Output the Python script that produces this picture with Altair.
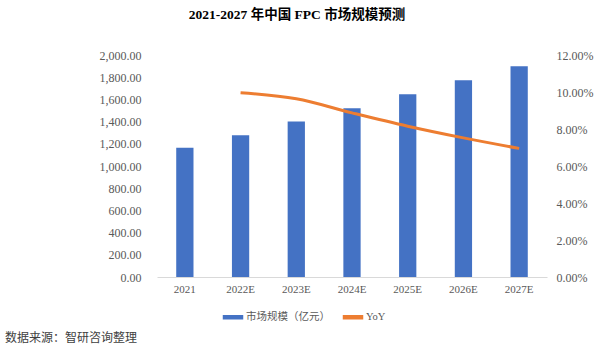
import altair as alt
import pandas as pd

years = ["2021", "2022E", "2023E", "2024E", "2025E", "2026E", "2027E"]
market = [1164, 1277, 1401, 1521, 1647, 1773, 1899]
yoy_years = ["2022E", "2023E", "2024E", "2025E", "2026E", "2027E"]
yoy = [0.0996, 0.0963, 0.0887, 0.0815, 0.0752, 0.0695]

bar_name = "市场规模（亿元）"
line_name = "YoY"
title = "2021-2027 年中国 FPC 市场规模预测"
source = "数据来源：智研咨询整理"

FONT = "Liberation Serif, Noto Sans CJK SC"
BLUE = "#4472C4"
ORANGE = "#ED7D31"

bars_df = pd.DataFrame({"year": years, "value": market, "series": bar_name})
line_df = pd.DataFrame({"year": yoy_years, "yoy": yoy, "series": line_name})
src_df = pd.DataFrame({"t": [source]})

xenc = alt.X("year:N", sort=years, title=None,
             scale=alt.Scale(paddingInner=0.69, paddingOuter=0.345),
             axis=alt.Axis(labelAngle=0, ticks=False, domainColor="#D9D9D9",
                           labelFont=FONT, labelFontSize=11, labelColor="#595959",
                           labelPadding=6))

bars = alt.Chart(bars_df).mark_bar(color=BLUE).encode(
    x=xenc,
    y=alt.Y("value:Q", title=None,
            scale=alt.Scale(domain=[0, 2000]),
            axis=alt.Axis(values=list(range(0, 2001, 200)), format=",.2f",
                          grid=False, domain=False, ticks=False,
                          labelFont=FONT, labelFontSize=12, labelColor="#595959",
                          labelPadding=16)),
    color=alt.Color("series:N",
                    scale=alt.Scale(domain=[bar_name, line_name], range=[BLUE, ORANGE]),
                    legend=alt.Legend(title=None, orient="none", direction="horizontal",
                                      legendX=65, legendY=251,
                                      symbolType="M-1,-0.22L1,-0.22L1,0.22L-1,0.22Z",
                                      symbolSize=420, labelFont=FONT, labelFontSize=10.5,
                                      labelColor="#595959", columnPadding=12,
                                      labelOffset=2, symbolOffset=0)),
)

line = alt.Chart(line_df).mark_line(color=ORANGE, strokeWidth=3, interpolate="monotone").encode(
    x=alt.X("year:N", sort=years),
    y=alt.Y("yoy:Q", title=None,
            scale=alt.Scale(domain=[0, 0.12]),
            axis=alt.Axis(orient="right", values=[0, 0.02, 0.04, 0.06, 0.08, 0.10, 0.12],
                          format=".2%", grid=False, domain=False, ticks=False,
                          labelFont=FONT, labelFontSize=12, labelColor="#595959",
                          labelPadding=9)),
)

src = alt.Chart(src_df).mark_text(align="left", baseline="middle", font=FONT,
                                  fontSize=12, color="#404040").encode(
    text="t:N", x=alt.value(-152), y=alt.value(283))

chart = alt.layer(bars, line, src).resolve_scale(y="independent").properties(
    width=390, height=222,
    autosize=alt.AutoSizeParams(type="none"),
    padding={"left": 157, "top": 55, "right": 53, "bottom": 75},
    title=alt.TitleParams(title, anchor="middle", dx=-55, offset=28,
                          font=FONT, fontSize=13.5, fontWeight="bold", color="#000000"),
).configure_view(stroke=None)

chart.save("out.html", embed_options={"renderer": "svg", "actions": False})
